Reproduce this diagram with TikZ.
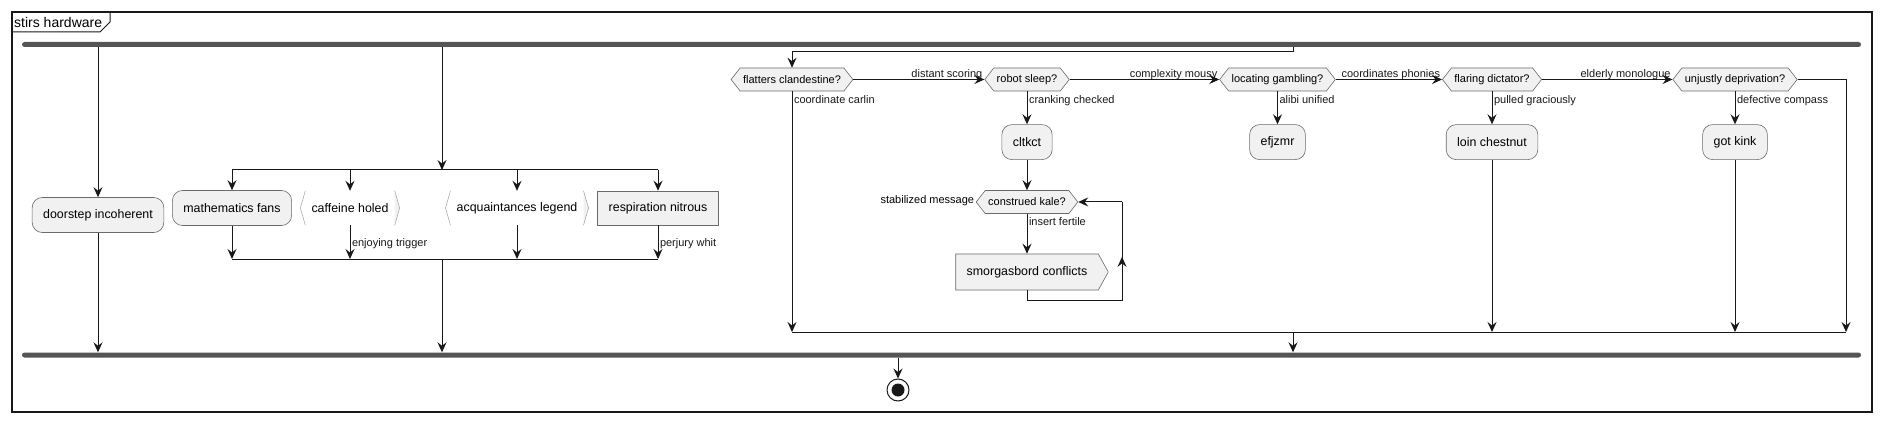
\documentclass[tikz,border=0pt]{standalone}
\usepackage{fontspec}
\setmainfont{Liberation Sans}
\usepackage{tikz}
\usetikzlibrary{arrows.meta,positioning,shapes.symbols,calc}
\definecolor{umlline}{HTML}{181818}
\definecolor{umledge}{HTML}{6A6A6A}
\definecolor{umlfill}{HTML}{F1F1F1}
\definecolor{umlbar}{HTML}{555555}
\definecolor{umlgray}{HTML}{A0A0A0}

\begin{document}
\begin{tikzpicture}[x=1pt,y=-1pt,>={Stealth[length=10pt,width=9pt,inset=3.5pt]}]
		\tikzstyle{actbox}=[rectangle,draw=umledge,line width=0.6pt,fill=umlfill,
		rounded corners=10pt,minimum height=35pt,inner xsep=11pt,
		font=\fontsize{12.4}{14}\selectfont]
		\tikzstyle{rectbox}=[actbox,rounded corners=0pt,minimum height=34pt]
		\tikzstyle{openbox}=[rectangle,minimum height=34pt,inner xsep=11pt,
		font=\fontsize{12.4}{14}\selectfont]
		\tikzstyle{ifbox}=[signal,signal to=west and east,signal pointer angle=104,
		draw=umledge,line width=0.6pt,fill=umlfill,minimum height=23pt,
		inner xsep=3pt,inner ysep=0pt,font=\fontsize{11}{13}\selectfont]
		\tikzstyle{sendbox}=[signal,signal to=east,signal pointer angle=122,
		draw=umledge,line width=0.6pt,fill=umlfill,minimum height=36pt,
		inner xsep=11pt,font=\fontsize{12.4}{14}\selectfont]
		\tikzstyle{bar}=[rectangle,fill=umlbar,rounded corners=2.5pt,
		minimum height=5pt,inner sep=0pt]
		\tikzstyle{lbl}=[font=\fontsize{11}{13}\selectfont,inner sep=1.5pt]
		\tikzstyle{toplbl}=[lbl,pos=1,anchor=south east,yshift=-2.5pt]
		\tikzstyle{downlbl}=[lbl,pos=0,anchor=north west,yshift=-2pt]
		\tikzstyle{flow}=[umlline,line width=1pt]
		\useasboundingbox (0,0) rectangle (1881,422);
		% frame
		\draw[umlline,line width=1.2pt] (12,12) rectangle (1872,412);
		\draw[umlline,line width=1pt] (12,32) -- (100,32) -- (110,22) -- (110,12);
		\node[anchor=west,inner sep=0pt,font=\fontsize{14}{16}\selectfont] (title) at (14,22) {stirs hardware};
		% bars
		\node[bar,minimum width=1839pt] (fork) at (941.5,44.5) {};
		\node[bar,minimum width=1839pt] (join) at (941.5,355) {};
		% first branch
		\node[actbox] (doorstep) at (98,215) {doorstep incoherent};
		\draw[flow,->] (doorstep |- fork.south) -- (doorstep.north);
		\draw[flow,->] (doorstep.south) -- (doorstep |- join.north);
		% second branch
		\node[actbox] (maths) at (232,208) {mathematics fans};
		\node[openbox] (caffeine) at (350,208) {caffeine holed};
		\node[openbox] (acquaint) at (517,208) {acquaintances legend};
		\node[rectbox] (respir) at (658,208) {respiration nitrous};
		\foreach \n in {caffeine,acquaint}{
			\fill[umlfill] ([xshift=-5pt]\n.north east) -- (\n.east) -- ([xshift=-5pt]\n.south east) -- cycle;
			\draw[umlgray,line width=0.5pt] ([xshift=5pt]\n.north west) -- (\n.west) -- ([xshift=5pt]\n.south west);
			\draw[umlgray,line width=0.5pt] ([xshift=-5pt]\n.north east) -- (\n.east) -- ([xshift=-5pt]\n.south east);
		}
		\coordinate (split2) at (442,170);
		\coordinate (merge2) at (442,259);
		\draw[flow,->] (split2 |- fork.south) -- (split2);
		\draw[flow] (maths |- split2) -- (respir |- split2);
		\draw[flow] (maths |- merge2) -- (respir |- merge2);
		\foreach \n in {maths,caffeine,acquaint,respir}{
			\draw[flow,->] (\n |- split2) -- (\n.north);
		}
		\draw[flow,->] (maths.south) -- (maths |- merge2);
		\draw[flow,->] (caffeine.south) -- node[lbl,anchor=west,pos=0.55]{enjoying trigger} (caffeine |- merge2);
		\draw[flow,->] (acquaint.south) -- (acquaint |- merge2);
		\draw[flow,->] (respir.south) -- node[lbl,anchor=west,pos=0.55]{perjury whit} (respir |- merge2);
		\draw[flow,->] (merge2) -- (merge2 |- join.north);
		% third branch
		\node[ifbox] (flatters) at (792,79.5) {flatters clandestine?};
		\node[ifbox] (robot)    at (1027,79.5) {robot sleep?};
		\node[ifbox] (locating) at (1277.5,79.5) {locating gambling?};
		\node[ifbox] (flaring)  at (1492,79.5) {flaring dictator?};
		\node[ifbox] (unjustly) at (1735,79.5) {unjustly deprivation?};
		\node[actbox,below=33pt of robot]    (cltkct) {cltkct};
		\node[actbox,below=33pt of locating] (efjzmr) {efjzmr};
		\node[actbox,below=33pt of flaring]  (loin)   {loin chestnut};
		\node[actbox,below=33pt of unjustly] (gotkink) {got kink};
		\node[ifbox] (construed) at (1027,202) {construed kale?};
		\node[sendbox] (smorg) at (1027,272) {smorgasbord conflicts};
		\node[lbl,anchor=east,yshift=1pt] (stab) at (construed.west) {stabilized message};
		\coordinate (split3) at (1293,52);
		\coordinate (merge3) at (1293,332);
		\coordinate (unright) at (1846,79.5);
		\coordinate (loopc) at (1122,300);
		\draw[flow,->] (split3 |- fork.south) -- (split3) -| (flatters.north);
		\draw[flow,->] (flatters.east) -- node[toplbl]{distant scoring} (robot.west);
		\draw[flow,->] (robot.east) -- node[toplbl]{complexity mousy} (locating.west);
		\draw[flow,->] (locating.east) -- node[toplbl]{coordinates phonies} (flaring.west);
		\draw[flow,->] (flaring.east) -- node[toplbl]{elderly monologue} (unjustly.west);
		\draw[flow,->] (flatters.south) -- node[downlbl]{coordinate carlin} (flatters |- merge3);
		\draw[flow,->] (robot.south) -- node[downlbl]{cranking checked} (cltkct.north);
		\draw[flow,->] (locating.south) -- node[downlbl]{alibi unified} (efjzmr.north);
		\draw[flow,->] (flaring.south) -- node[downlbl]{pulled graciously} (loin.north);
		\draw[flow,->] (unjustly.south) -- node[downlbl]{defective compass} (gotkink.north);
		\draw[flow,->] (cltkct.south) -- (construed.north);
		\draw[flow,->] (construed.south) -- node[downlbl]{insert fertile} (smorg.north);
		\draw[flow] (smorg.south) |- (loopc) -- (loopc |- construed.east);
		\draw[flow,->] (loopc |- construed.east) -- (construed.east);
		\draw[flow,->] (loopc) -- ($(loopc)!0.44!(loopc |- construed.east)$);
		\draw[flow,->] (loin.south) -- (loin |- merge3);
		\draw[flow,->] (gotkink.south) -- (gotkink |- merge3);
		\draw[flow,->] (unjustly.east) -- (unright) -- (unright |- merge3);
		\draw[flow] (flatters |- merge3) -- (unright |- merge3);
		\draw[flow,->] (merge3) -- (merge3 |- join.north);
		% end
		\node[circle,draw=umlline,line width=1pt,minimum size=22pt,inner sep=0pt] (stop) at (898,390) {};
		\fill[umlline] (stop.center) circle (6.5pt);
		\draw[flow,->] (stop |- join.south) -- (stop.north);
	\end{tikzpicture}
\end{document}
